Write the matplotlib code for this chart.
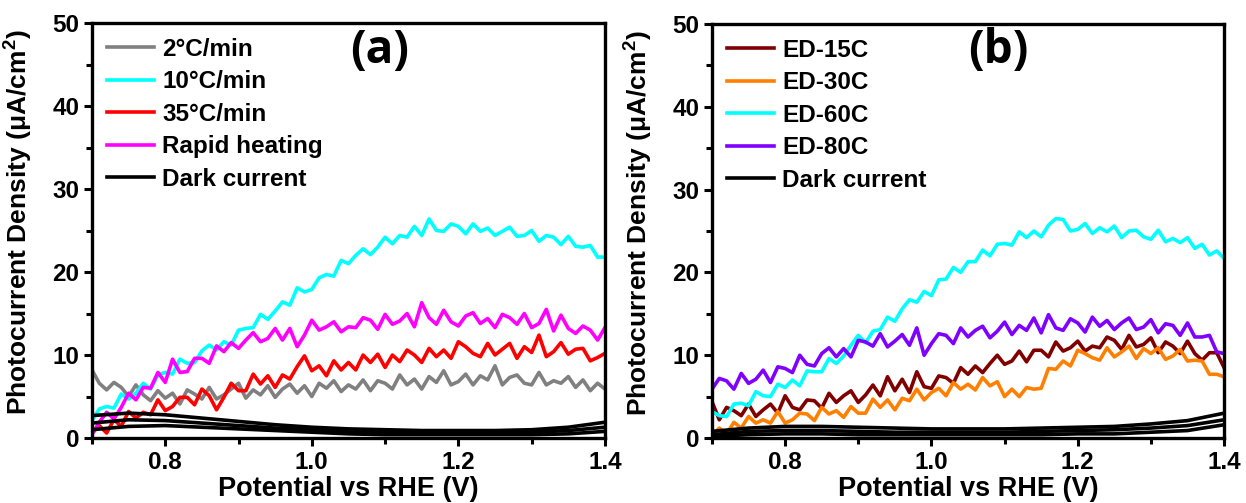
import numpy as np
import matplotlib
matplotlib.use("Agg")
import matplotlib.pyplot as plt
from matplotlib.ticker import MultipleLocator

plt.rcParams['font.family'] = ['Liberation Sans', 'DejaVu Sans']
plt.rcParams['font.weight'] = 'bold'
plt.rcParams['mathtext.fontset'] = 'custom'
plt.rcParams['mathtext.bf'] = 'Liberation Sans:bold'
plt.rcParams['mathtext.rm'] = 'Liberation Sans:bold'
plt.rcParams['mathtext.default'] = 'bf'

# potential sweep, 0.70 ... 1.40 V in 10 mV steps
potential = np.round(np.arange(70, 141) / 100, 2)
dark_potential = np.round(np.arange(14, 29) * 0.05, 2)

# (a) heating rate series, photocurrent in uA/cm2
rate_2 = [8.2, 6.6, 5.8, 6.7, 6.1, 5.0, 6.4, 5.2, 4.5, 5.7, 4.8,
          5.4, 4.1, 5.8, 5.3, 4.7, 6.1, 4.7, 5.2, 5.9, 6.6,
          4.8, 5.8, 5.2, 6.3, 4.9, 5.9, 6.5, 5.4, 6.3, 5.0,
          6.6, 6.0, 6.9, 5.6, 6.4, 5.9, 7.0, 5.7, 6.9, 6.6,
          5.9, 7.6, 6.4, 7.1, 5.9, 7.4, 6.7, 8.1, 6.4, 6.8,
          7.7, 6.4, 7.5, 7.0, 8.7, 6.4, 7.3, 7.6, 6.6, 6.4,
          7.9, 6.4, 6.9, 6.6, 7.4, 6.1, 7.0, 5.7, 6.6, 5.9]
rate_10 = [2.1, 3.5, 3.8, 3.6, 5.3, 4.7, 5.4, 6.6, 5.9, 7.6, 7.9,
           7.7, 9.5, 9.0, 9.1, 10.5, 11.2, 10.6, 11.6, 11.2, 13.0,
           13.2, 13.3, 14.9, 14.3, 15.3, 16.4, 16.0, 18.1, 17.6, 17.9,
           19.3, 19.7, 19.5, 21.4, 21.0, 22.0, 22.8, 22.1, 23.0, 24.2,
           23.4, 24.4, 24.2, 25.5, 24.4, 26.4, 25.0, 24.9, 25.8, 25.5,
           24.6, 25.8, 24.9, 25.3, 24.4, 24.9, 25.4, 24.3, 24.4, 25.0,
           23.7, 24.4, 24.2, 23.3, 24.3, 23.1, 23.0, 23.2, 21.8, 21.8]
rate_35 = [0.6, 1.5, 0.6, 2.2, 1.4, 3.2, 2.4, 3.1, 2.8, 4.6, 3.3,
           3.8, 4.9, 4.9, 4.0, 5.9, 5.1, 3.4, 4.9, 6.6, 5.7,
           5.7, 7.7, 6.5, 7.5, 6.1, 7.6, 7.1, 8.6, 9.9, 8.1,
           8.7, 7.5, 9.3, 8.2, 9.1, 8.2, 10.0, 9.1, 10.1, 8.5,
           10.0, 9.2, 10.6, 10.0, 9.1, 10.8, 9.8, 10.6, 9.6, 11.6,
           11.0, 10.2, 9.8, 11.4, 10.0, 10.7, 11.4, 9.6, 11.0, 10.3,
           12.4, 9.8, 10.4, 11.5, 10.1, 10.7, 10.8, 9.3, 9.7, 10.2]
rapid = [0.4, 1.9, 3.1, 2.3, 3.7, 5.4, 4.6, 6.1, 6.0, 7.9, 6.7,
         9.5, 7.9, 8.0, 9.6, 9.6, 9.0, 11.1, 10.4, 11.5, 10.8,
         11.8, 12.7, 11.6, 12.0, 13.2, 11.8, 13.2, 11.0, 12.4, 14.2,
         13.0, 13.4, 14.0, 12.8, 13.4, 13.3, 14.5, 14.2, 13.1, 14.9,
         13.7, 14.1, 15.0, 13.4, 16.3, 14.5, 13.7, 15.4, 14.0, 13.5,
         14.7, 15.1, 13.8, 14.4, 13.3, 14.9, 14.5, 13.7, 15.0, 13.3,
         13.8, 15.5, 12.9, 14.8, 13.2, 12.6, 13.5, 13.0, 11.8, 13.3]
dark_a = [[2.7, 3.0, 2.8, 2.4, 2.0, 1.6, 1.3, 1.1, 1.0, 0.9, 0.9, 0.9, 1.0, 1.3, 1.9],
          [1.8, 2.2, 2.1, 1.8, 1.5, 1.2, 1.0, 0.8, 0.7, 0.6, 0.6, 0.6, 0.7, 0.9, 1.3],
          [1.0, 1.4, 1.5, 1.3, 1.1, 0.9, 0.7, 0.5, 0.4, 0.4, 0.4, 0.4, 0.4, 0.5, 0.8]]

# (b) deposition temperature series
ed_15 = [4.4, 2.2, 3.7, 3.3, 2.7, 4.1, 2.6, 3.4, 4.1, 3.0, 5.1,
         3.7, 3.4, 4.6, 4.5, 3.6, 5.4, 4.3, 5.1, 5.7, 4.3,
         5.2, 6.4, 5.1, 7.4, 5.7, 7.1, 5.5, 8.0, 6.2, 6.0,
         7.5, 7.3, 6.6, 8.5, 7.7, 8.7, 7.9, 9.0, 10.0, 8.9,
         9.3, 10.5, 9.2, 10.6, 10.6, 9.8, 11.6, 10.5, 10.9, 11.7,
         10.5, 11.1, 10.9, 12.2, 11.8, 10.7, 12.4, 11.0, 11.3, 12.1,
         10.3, 11.6, 11.1, 10.2, 11.7, 10.2, 9.4, 10.3, 10.3, 8.5]
ed_30 = [0.3, 1.2, 0.5, 1.9, 1.2, 2.6, 1.8, 2.2, 1.8, 3.2, 1.8,
         2.2, 3.0, 2.9, 2.1, 3.7, 2.9, 3.3, 2.5, 3.8, 3.0,
         3.0, 4.7, 3.7, 4.6, 3.4, 4.8, 4.5, 5.9, 4.6, 5.5,
         6.0, 5.1, 6.7, 5.9, 6.5, 5.8, 7.3, 6.3, 6.8, 5.0,
         5.9, 5.0, 6.1, 5.9, 6.0, 8.4, 8.3, 9.3, 8.7, 10.6,
         10.2, 9.7, 9.4, 10.9, 9.8, 10.4, 11.1, 9.6, 10.8, 10.2,
         10.9, 9.5, 9.9, 10.7, 9.3, 9.4, 9.3, 7.7, 7.7, 7.4]
ed_60 = [3.2, 2.7, 2.6, 4.1, 4.2, 3.9, 5.6, 5.1, 5.0, 6.5, 6.1,
         7.0, 6.3, 8.1, 8.0, 8.0, 9.6, 9.0, 9.9, 11.2, 12.4,
         11.5, 12.9, 13.1, 14.6, 14.1, 15.6, 16.7, 16.4, 17.7, 17.2,
         19.1, 19.2, 20.6, 20.0, 21.3, 21.3, 22.7, 22.0, 23.4, 23.5,
         23.3, 24.9, 24.2, 25.0, 24.3, 25.7, 26.5, 26.4, 25.0, 25.2,
         25.9, 24.7, 25.4, 24.9, 25.6, 24.2, 25.0, 25.1, 24.3, 24.0,
         25.1, 23.7, 24.1, 23.6, 24.2, 22.9, 23.4, 22.1, 22.6, 21.7]
ed_80 = [5.9, 7.2, 6.9, 5.9, 7.8, 6.6, 7.1, 8.2, 6.7, 8.6, 8.4,
         7.9, 10.0, 8.9, 8.7, 10.2, 10.9, 9.8, 10.8, 9.8, 11.8,
         11.6, 11.1, 12.6, 11.0, 11.7, 12.5, 11.2, 13.3, 10.0, 11.4,
         12.6, 12.4, 11.4, 13.3, 12.2, 13.0, 13.5, 12.1, 12.9, 14.0,
         12.5, 13.6, 13.0, 14.5, 12.7, 14.9, 13.3, 13.0, 14.4, 13.9,
         12.8, 14.6, 13.5, 14.2, 13.1, 13.9, 14.5, 13.1, 13.4, 14.3,
         12.7, 13.8, 13.6, 12.4, 13.9, 12.2, 12.2, 12.4, 10.4, 10.2]
dark_b = [[0.8, 1.2, 1.4, 1.4, 1.3, 1.2, 1.1, 1.1, 1.1, 1.2, 1.3, 1.4, 1.7, 2.1, 3.0],
          [0.4, 0.8, 0.9, 0.9, 0.8, 0.7, 0.7, 0.7, 0.7, 0.8, 0.9, 1.0, 1.2, 1.5, 2.2],
          [0.2, 0.4, 0.5, 0.5, 0.4, 0.4, 0.4, 0.4, 0.4, 0.4, 0.5, 0.5, 0.7, 0.9, 1.6]]

labels_a = ['2°C/min', '10°C/min', '35°C/min', 'Rapid heating']
series_a = [rate_2, rate_10, rate_35, rapid]
colors_a = ['#808080', '#00ffff', '#ff0000', '#ff00ff']

labels_b = ['ED-15C', 'ED-30C', 'ED-60C', 'ED-80C']
series_b = [ed_15, ed_30, ed_60, ed_80]
colors_b = ['#800000', '#ff8000', '#00ffff', '#8000ff']

fig = plt.figure(figsize=(12.46, 5.03), dpi=100)
ax_a = fig.add_axes([0.0738, 0.1292, 0.4117, 0.825])
ax_b = fig.add_axes([0.5714, 0.1292, 0.4110, 0.823])


def draw(ax, series, labels, colors, dark, tag):
    for y, lab, c in zip(series, labels, colors):
        ax.plot(potential, y, color=c, lw=2.6, label=lab)
    for i, d in enumerate(dark):
        ax.plot(dark_potential, d, color='black', lw=2.6,
                label='Dark current' if i == 0 else None)
    ax.set_xlim(0.7, 1.4)
    ax.set_ylim(0, 50)
    ax.xaxis.set_major_locator(MultipleLocator(0.2))
    ax.xaxis.set_minor_locator(MultipleLocator(0.1))
    ax.yaxis.set_major_locator(MultipleLocator(10))
    ax.yaxis.set_minor_locator(MultipleLocator(5))
    ax.set_xticks([0.8, 1.0, 1.2, 1.4])
    ax.tick_params(which='both', direction='out', width=2.2, labelsize=17.5,
                   top=False, right=False, pad=3)
    ax.tick_params(which='major', length=6)
    ax.tick_params(which='minor', length=4)
    for s in ax.spines.values():
        s.set_linewidth(2.4)
    ax.set_xlabel('Potential vs RHE (V)', fontsize=19.5, fontweight='bold', labelpad=2)
    ax.set_ylabel('Photocurrent Density (μA/cm$^{2}$)', fontsize=19,
                  fontweight='bold')
    ax.yaxis.set_label_coords(-0.112, 0.52)
    ax.legend(loc='upper left', frameon=False, fontsize=17.5, handlelength=1.95,
              handletextpad=0.35, labelspacing=0.39, borderaxespad=0.3,
              borderpad=0.3)
    ax.text(0.56, 0.935, tag, transform=ax.transAxes, fontsize=33,
            fontweight='bold', family=['Open Sans', 'DejaVu Sans'],
            ha='center', va='center')


draw(ax_a, series_a, labels_a, colors_a, dark_a, '(a)')
draw(ax_b, series_b, labels_b, colors_b, dark_b, '(b)')

fig.savefig('out.png', dpi=100)
